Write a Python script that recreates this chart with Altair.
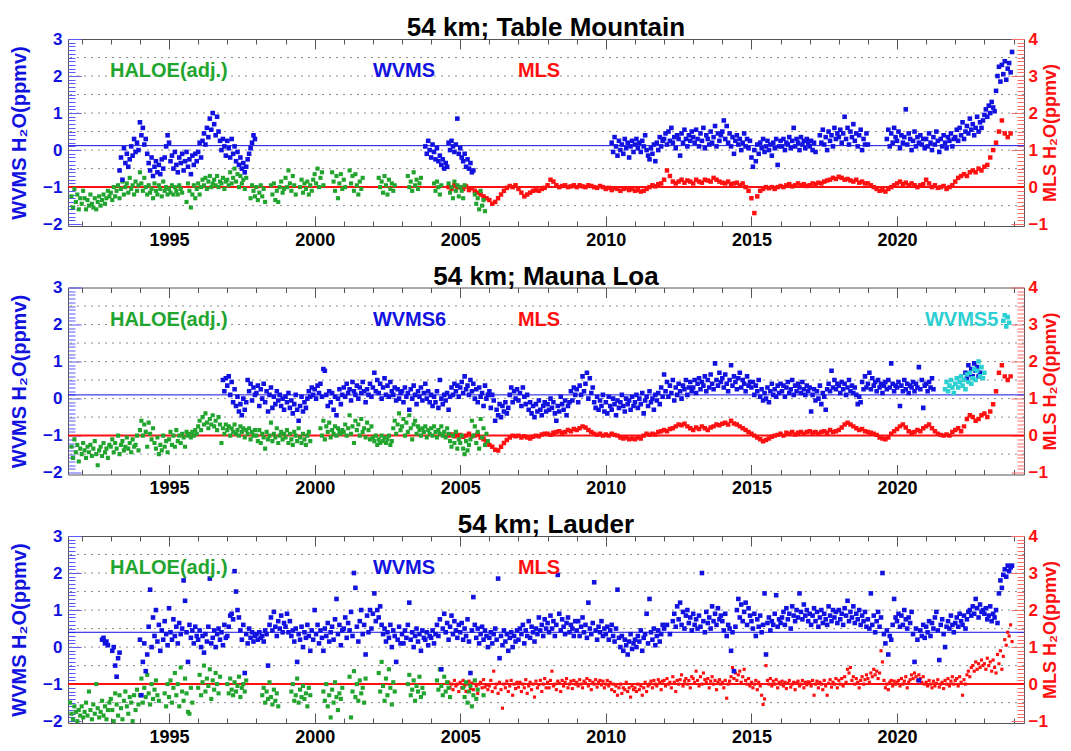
import altair as alt
import pandas as pd

N = None
FONT = "Liberation Sans"
BLUE = "#1212e0"
GREEN = "#22a52e"
RED = "#ff1010"
CYAN = "#2ccfd2"
TICK_BLUE = "#5a5aff"
TICK_RED = "#ff6a6a"
FRAME = "#555555"

# ---------------- axes / labels ----------------
X_DOMAIN = [1991.53, 2024.36]
YL_DOMAIN = [-2.05, 3.0]
YR_DOMAIN = [-1.05, 4.0]
LEFT_LABELS = [-2, -1, 0, 1, 2, 3]
RIGHT_LABELS = [-1, 0, 1, 2, 3, 4]
YEAR_LABELS = [1995, 2000, 2005, 2010, 2015, 2020]
YEAR_TICKS = list(range(1992, 2025))
LEFT_MINOR = [round(-2.0 + 0.1 * i, 1) for i in range(51)]
RIGHT_MINOR = [round(-1.0 + 0.1 * i, 1) for i in range(51)]
GRID = [-1.5, -1.0, -0.5, 0.0, 0.5, 1.0, 1.5, 2.0, 2.5]
MLS_ZERO = [0.0]
TITLES = ["54 km; Table Mountain", "54 km; Mauna Loa", "54 km; Lauder"]
BASE_WVMS = [0.12, 0.10, 0.40]
LABEL_Y = 2.13
LABELS_TM = [("HALOE(adj.)", 1992.97), ("WVMS", 2002.0), ("MLS", 2006.98)]
LABELS_ML = [("HALOE(adj.)", 1992.97), ("WVMS6", 2002.0), ("MLS", 2006.98), ("WVMS5", 2020.96)]
LABELS_LA = [("HALOE(adj.)", 1992.97), ("WVMS", 2002.0), ("MLS", 2006.98)]
LABEL_COLORS = {"HALOE(adj.)": GREEN, "WVMS": BLUE, "WVMS6": BLUE, "MLS": RED, "WVMS5": CYAN}

# ---------------- Table Mountain ----------------
TM_HALOE_START, TM_HALOE_STEP = 1991.0, 0.05
TM_HALOE = [
    N, N, N, N, N, N, N, N, N, N, N, N, N, -1.25, -1.55, -1.05, -1.4, -1.2, -1.6, -1.3,
    -1.45, -1.1, -1.3, -1.6, -1.35, -1.5, -1.2, -1.45, -1.55, -1.3, -1.6, -1.4, -1.25, -1.5, -1.35, -1.2, -1.45, -1.3, -1.1, -1.25,
    -1.15, -1.35, -1.0, -1.25, -1.1, -0.95, -1.3, -1.05, -0.85, -1.2, -1.0, -0.9, -1.15, -0.75, -1.05, -0.95, -1.2, -0.85, -1.1, -0.95,
    -0.6, -0.9, -1.1, -0.75, -1.0, -1.2, -0.95, -1.15, -1.05, -1.3, -0.9, -1.1, -1.2, -0.95, -1.05, -1.25, -0.85, -1.1, -1.0, -1.2,
    -1.05, -1.15, -0.95, -1.2, -1.0, -1.1, -1.2, -0.95, -1.05, -1.15, N, N, -1.4, -0.9, -1.1, -1.55, -1.2, -0.95, -1.3, -1.05,
    -0.9, -1.2, -1.0, -0.8, -0.95, -0.75, -1.05, -0.85, -0.7, -1.0, -0.9, -0.8, -0.95, -0.7, -1.0, -0.85, -0.9, -0.75, -1.05, -0.85,
    -0.8, -0.95, -0.6, -0.9, -0.75, -0.5, -0.85, -0.65, -1.0, -0.7, -0.9, -0.8, -1.05, -0.75, N, N, -1.3, -0.95, -1.1, -1.25,
    -1.0, -1.35, -1.15, -0.95, -1.25, -1.05, -1.4, N, N, N, -0.95, -1.2, -0.9, -1.35, -1.1, -1.4, -1.0, -0.85, -1.15, -1.05,
    -0.75, -1.0, -0.55, -0.9, -1.1, -0.7, -0.95, -1.2, N, N, -1.0, -0.8, -1.15, -0.9, -1.05, -0.85, -1.2, -0.95, -1.1, -0.8,
    -0.65, -0.9, -0.5, -1.0, -0.75, -0.6, -0.95, N, N, N, N, N, -0.6, -0.85, -1.1, -0.7, -1.3, -0.9, -0.65, -1.05,
    -0.8, -1.0, N, N, -0.55, -0.9, -0.7, -1.1, -0.65, -0.95, -1.2, -0.85, -1.05, -0.75, N, N, N, N, N, N,
    N, N, N, N, -0.75, -1.0, -0.85, -1.15, -0.7, -0.95, -1.2, -0.8, -1.05, -0.9, -1.1, -0.95, N, N, N, N,
    N, N, N, N, -0.7, -1.0, -0.85, -1.1, -0.6, -0.95, -0.8, -1.05, -0.9, -0.75, N, N, N, N, N, N,
    N, N, -0.9, -1.1, -0.85, -1.0, -1.2, -0.95, N, N, N, N, -0.9, -1.15, -1.0, -1.3, -0.85, -1.1, -0.95, -1.25,
    -1.0, -1.1, -1.3, -0.95, N, N, N, N, N, N, -1.2, -1.45, -1.3, -1.6, -1.1, -1.5, -1.35, -1.65,
]
TM_WVMS_A_START = 1993.0
TM_WVMS_A = [
    N, N, N, N, N, N, -0.55, -0.2, -0.8, 0.05, -0.35, -0.1, -0.45, -0.25, 0.1, -0.15, 0.3, -0.05, 0.2, 0.0,
    0.75, 0.4, 0.6, 0.15, 0.3, -0.1, -0.35, -0.55, -0.2, -0.7, -0.45, -0.3, -0.6, -0.4, -0.65, -0.25, -0.5, -0.2, 0.1, 0.4,
    0.2, -0.3, -0.15, -0.5, -0.05, -0.4, -0.6, -0.2, -0.35, -0.1, -0.55, -0.3, -0.05, -0.45, -0.25, -0.65, -0.15, -0.4, -0.1, -0.3,
    -0.05, 0.2, -0.2, 0.25, 0.45, 0.15, 0.6, 0.35, 0.85, 0.55, 1.0, 0.7, 0.4, 0.9, 0.5, 0.25, 0.0, 0.3, 0.1, -0.15,
    0.25, 0.05, -0.2, 0.3, -0.1, 0.1, -0.3, -0.05, -0.4, -0.2, -0.5, -0.35, -0.6, -0.45, -0.25, -0.1, 0.05, 0.2, 0.4, 0.3,
]
TM_WVMS_B_START = 2003.8
TM_WVMS_B = [
    0.1, -0.1, 0.25, 0.0, -0.2, 0.15, -0.05, -0.25, 0.05, -0.3, -0.15, -0.4, -0.25, -0.5, -0.35, -0.45, 0.2,
    0.0, 0.25, 0.1, -0.05, 0.15, 0.85, -0.1, 0.05, -0.2, -0.3, -0.1, -0.45, -0.25, -0.5, -0.35, -0.6, -0.55,
]
TM_WVMS_C_START = 2010.2
TM_WVMS_C = [
    0.2, -0.05, 0.35, 0.1, -0.15, 0.25, 0.0, 0.15, -0.1, 0.3, 0.05, 0.2, -0.2, 0.1, 0.25, -0.05,
    0.15, 0.3, 0.05, 0.2, -0.05, 0.25, 0.1, 0.4, 0.0, -0.15, -0.25, 0.05, -0.1, 0.15, -0.3, 0.2, 0.0, 0.35, 0.1, 0.25,
    0.3, 0.45, 0.15, 0.5, 0.25, 0.6, 0.2, 0.35, 0.05, 0.4, 0.3, -0.15, 0.45, 0.2, 0.55, 0.3, 0.1, 0.4, 0.25, 0.5,
    0.35, 0.2, 0.55, 0.3, 0.1, 0.45, 0.25, 0.6, 0.05, 0.4, 0.3, 0.15, 0.5, 0.2, 0.35, 0.65, 0.1, 0.45, 0.25, 0.4,
    0.5, 0.8, 0.3, 0.65, 0.2, 0.45, 0.1, 0.35, -0.1, 0.25, 0.4, 0.15, 0.3, 0.0, 0.2, 0.45, 0.1, 0.3, 0.05, 0.25,
    -0.2, -0.45, 0.0, -0.3, 0.15, -0.1, 0.2, 0.05, 0.3, -0.05, 0.1, 0.25, 0.0, 0.15, -0.15, 0.2, 0.05, 0.3, -0.4, 0.1,
    0.25, 0.1, 0.3, 0.0, 0.2, 0.15, 0.35, 0.05, 0.25, 0.6, 0.1, 0.3, 0.2, 0.0, 0.35, 0.15, 0.25, 0.05, 0.3, 0.2,
    0.1, 0.25, 0.0, 0.2, -0.05, N, N, 0.4, 0.2, 0.55, 0.15, 0.35, 0.0, 0.5, 0.25, 0.4, 0.1, 0.6, 0.3, 0.45,
    0.35, 0.55, 0.2, 0.45, 0.9, 0.3, 0.6, 0.15, 0.5, 0.35, 0.7, 0.25, 0.45, 0.1, 0.4, 0.55, 0.0, 0.3, 0.15, 0.45,
    0.15, N, N, N, N, N, N, N, N, N, N, N, N, 0.3, 0.55, 0.1, 0.45, 0.2, 0.6, 0.35,
    0.25, 0.5, 0.05, 0.4, 0.2, 0.35, 1.1, 0.15, 0.45, 0.3, 0.0, 0.25, 0.5, 0.1, 0.35, 0.2, 0.4, 0.15, 0.3, 0.05,
    0.3, 0.1, 0.45, 0.2, 0.0, 0.35, 0.15, 0.5, 0.25, -0.05, 0.3, 0.1, 0.4, 0.2, 0.05, 0.35, 0.25, 0.45, 0.1, 0.3,
    0.35, 0.55, 0.25, 0.6, 0.4, 0.75, 0.3, 0.5, 0.65, 0.45, 0.85, 0.55, 0.7, 0.4, 0.6, 0.9, 0.5, 0.75, 0.6, 0.8,
    0.95, 1.1, 0.9, 1.2, 1.0, 1.3, 1.15, 1.05, 1.6, 2.0, 2.25, 1.85, 2.3, 2.05, 2.4, 1.9, 2.2, 2.35, 2.1, 2.65,
]
TM_MLS_START, TM_MLS_STEP = 2004.6, 0.1
TM_MLS = [
    0.0, -0.05, 0.05, 0.0,
    0.0, -0.05, 0.02, -0.08, -0.03, -0.1, -0.15, -0.2, -0.25, -0.3,
    -0.35, -0.45, -0.4, -0.3, -0.2, -0.1, -0.02, 0.03, 0.0, 0.05,
    -0.05, -0.15, -0.25, -0.2, -0.15, -0.1, -0.08, -0.1, -0.05, -0.02,
    0.05, 0.2, 0.15, 0.05, 0.0, 0.03, 0.05, 0.0, 0.02, 0.05,
    0.0, 0.05, 0.02, 0.0, 0.05, 0.03, 0.0, -0.02, 0.03, 0.0,
    -0.05, -0.02, -0.08, -0.03, -0.05, -0.1, -0.05, -0.03, -0.08, -0.05,
    -0.1, -0.08, -0.12, -0.1, -0.05, 0.0, 0.05, 0.02, 0.08, 0.1,
    0.2, 0.45, 0.3, 0.15, 0.1, 0.15, 0.2, 0.12, 0.18, 0.15,
    0.1, 0.2, 0.15, 0.12, 0.2, 0.18, 0.15, 0.25, 0.2, 0.15,
    0.12, 0.1, 0.15, 0.08, 0.1, 0.12, 0.05, 0.1, 0.0, -0.1,
    -0.3, -0.7, -0.25, -0.1, -0.05, 0.0, -0.03, 0.0, -0.05, 0.0,
    0.03, 0.0, 0.05, 0.08, 0.02, 0.05, 0.1, 0.05, 0.08, 0.03,
    0.05, 0.1, 0.08, 0.12, 0.1, 0.15, 0.18, 0.2, 0.25, 0.22,
    0.28, 0.25, 0.2, 0.22, 0.18, 0.15, 0.2, 0.12, 0.15, 0.1,
    0.1, 0.05, 0.0, -0.05, -0.1, -0.08, -0.12, -0.05, 0.0, 0.05,
    0.1, 0.15, 0.08, 0.12, 0.05, 0.1, 0.05, 0.0, 0.05, 0.08,
    0.2, 0.1, 0.0, 0.05, -0.02, 0.0, 0.03, -0.05, 0.0, 0.05,
    0.15, 0.25, 0.3, 0.35, 0.3, 0.4, 0.45, 0.4, 0.5, 0.45,
    0.55, 0.6, 0.8, 1.0, 1.2, 1.5, 1.8, 1.45, 1.35, 1.45,
]

# ---------------- Mauna Loa ----------------
ML_HALOE_START, ML_HALOE_STEP = 1991.0, 0.05
ML_HALOE = [
    N, N, N, N, N, N, N, N, N, N, N, N, N, -1.3, -1.6, -1.1, -1.45, -1.25, -1.7, -1.35,
    -1.5, -1.2, -1.4, -1.6, -1.3, -1.45, -1.25, -1.55, -1.35, -1.15, -1.5, -1.8, -1.4, -1.3, -1.55, -1.2, -1.45, -1.35, -1.6, -1.25,
    -1.3, -1.1, -1.45, -1.2, -1.35, -1.0, -1.5, -1.25, -1.15, -1.4, -1.3, -1.05, -1.35, -1.2, -1.45, -1.1, -1.3, -1.25, -1.0, -1.4,
    -0.85, -0.6, -1.0, -0.7, -0.9, -1.3, -0.65, -0.95, -1.1, -0.8, -1.2, -1.35, -1.05, -1.5, -1.25, -1.4, -1.0, -1.3, -1.15, -1.45,
    -1.1, -0.9, -1.25, -1.0, -1.3, -0.85, -1.15, -1.0, -1.2, -0.95, -1.05, -1.3, -0.9, -1.0, -0.95, -1.05, -0.9, -1.0, -0.85, -0.95,
    -0.75, -0.6, -0.85, -0.5, -0.7, -0.4, -0.65, -0.8, -0.55, -0.7, -0.45, -0.75, -0.6, -0.85, -0.5, -0.7, -1.2, -0.8, -0.95, -0.7,
    -0.85, -0.75, -1.0, -0.8, -0.9, -0.7, -0.95, -0.85, -1.0, -0.75, -0.9, -0.8, -1.05, -0.85, -0.95, -0.8, -1.1, -0.9, -1.0, -0.85,
    -1.0, -1.15, -0.85, -1.2, -0.95, -1.05, -1.35, -0.9, -1.1, -1.0, -0.65, -1.15, -0.95, -1.05, -0.8, -1.2, -1.0, -0.9, -1.1, -0.95,
    -1.05, -0.85, -1.2, -0.95, -1.1, -1.25, -0.9, -1.0, -1.15, -0.8, -1.05, -1.2, -0.95, -1.1, -1.25, -1.0, -0.9, -1.15, N, N,
    N, N, N, N, -0.8, -1.0, -0.6, -1.1, -0.75, -0.9, -0.65, -1.05, -0.85, -0.95, -0.75, -1.0, -0.8, -0.9, -0.95, -0.85,
    -0.9, -0.7, -1.0, -0.8, -0.45, -0.95, -0.75, -1.2, -0.6, -0.85, -0.7, -1.0, -0.55, -0.9, -0.8, -1.05, -0.65, -0.85, -1.1, -0.75,
    -1.05, -1.15, -1.0, -1.25, -1.1, -1.2, -1.0, -1.15, -1.05, -1.2, -1.1, -1.0, -1.25, -1.15, -0.8, -0.6, -0.95, -0.7, -0.4, -0.85,
    -0.75, -0.55, -1.0, -0.65, -0.9, -0.45, -0.8, -1.1, -0.7, -0.6, -0.95, -0.75, -0.85, -1.0, -0.8, -0.9, -0.75, -1.05, -0.85, -0.95,
    -0.8, -1.0, -0.75, -0.9, -1.05, -0.85, -0.95, -0.75, -1.0, -0.9, -1.05, -0.8, -0.95, -1.15, -1.3, -1.0, -1.2, -0.9, -1.35, -1.1,
    -1.2, -1.0, -1.35, -1.5, -1.15, -1.4, -1.25, -1.1, -0.6, -1.0, -0.75, -1.2, -0.9, -1.35, -0.55, -1.05, -0.8, -1.25, -0.95, -1.15,
]
ML_WVMS_A_START = 1996.85
ML_WVMS_A = [
    0.5, 0.2, 0.55,
    0.35, 0.6, 0.1, 0.45, -0.1, 0.25, -0.2, 0.05, -0.35, -0.15, -0.45, 0.0, -0.3, -0.1, 0.5, 0.2, 0.4, -0.05, 0.3, 0.1,
    0.15, 0.35, -0.2, 0.25, 0.0, 0.4, -0.1, 0.2, -0.35, 0.1, 0.3, -0.25, 0.05, -0.15, 0.2, -0.05, 0.1, -0.2, 0.0, -0.3,
    0.05, -0.1, 0.15, -0.25, -0.05, -0.4, -0.15, 0.1, -0.3, -0.6, -0.2, 0.05, -0.35, -0.1, -0.25, 0.0, 0.2, 0.05, 0.3, 0.1,
    0.25, 0.0, 0.35, 0.15, 0.4, 0.05, 0.8, 0.75, 0.1, -0.2, 0.2, -0.1, 0.15, -0.3, 0.05, -0.45, 0.0, 0.25, -0.15, 0.1,
    0.3, 0.05, 0.4, 0.15, 0.25, -0.05, 0.45, 0.2, 0.1, 0.35, 0.0, 0.3, 0.15, 0.45, 0.2, -0.1, 0.25, 0.1, 0.4, 0.05,
    0.3, 0.7, 0.2, 0.5, 0.15, 0.4, 0.0, 0.3, 0.55, 0.1, 0.35, 0.05, 0.45, 0.2, 0.1, 0.3, -0.05, 0.25, 0.0, 0.15,
    0.2, -0.1, 0.3, 0.05, 0.15, -0.3, 0.25, 0.0, 0.35, 0.1, -0.15, 0.2, 0.05, 0.3, -0.05, 0.15, 0.4, 0.0, 0.2, -0.1,
    0.1, -0.2, 0.05, -0.1, 0.2, -0.25, 0.5, 0.0, -0.15, 0.1, -0.05, 0.15, -0.3, 0.05, 0.3, 0.1, 0.4, 0.2, 0.35, 0.05,
    0.3, 0.45, 0.15, 0.6, 0.25, 0.35, 0.1, 0.5, 0.2, 0.4, 0.0, 0.25, -0.1, 0.3, 0.05, 0.15, -0.2, 0.35, 0.0, 0.1,
    0.2, -0.25, 0.1, -0.05, -0.6, -0.3, -0.45, -0.15, -0.5, -0.2, -0.35, -0.1, -0.4, -0.25, 0.1, 0.3, -0.1, 0.2, 0.0, 0.25,
    -0.05, 0.15, -0.2, 0.3, 0.05, -0.15, 0.1, -0.3, -0.1, -0.4, -0.2, -0.5, -0.15, -0.35, -0.05, -0.3, -0.45, -0.2, -0.1, -0.35,
    -0.15, -0.3, 0.0, -0.25, -0.1, -0.4, -0.6, -0.2, -0.35, 0.05, -0.15, -0.3, -0.05, -0.45, -0.2, -0.1, 0.2, -0.05, 0.3, 0.1,
    0.25, -0.1, 0.35, 0.1, 0.6, 0.2, 0.4, 0.7, 0.0, 0.55, 0.15, 0.3, -0.1, -0.25, 0.05, -0.3, -0.05, -0.2, 0.1, -0.35,
    -0.1, -0.4, 0.05, -0.2, -0.3, 0.0, -0.15, -0.45, -0.05, -0.25, -0.1, 0.1, -0.2, -0.35, 0.0, -0.15, -0.05, -0.3, 0.05, -0.2,
    -0.1, 0.1, -0.25, 0.0, -0.15, 0.15, -0.4, -0.05, 0.05, -0.2, 0.2, -0.1, 0.0, -0.3, 0.1, -0.05, 0.15, -0.15, 0.3, 0.05,
    0.65, 0.2, 0.45, 0.05, 0.35, 0.15, 0.5, -0.05, 0.3, 0.1, 0.4, 0.2, 0.0, 0.35, 0.25, 0.5, 0.1, 0.3, 0.45, 0.2,
    0.3, 0.5, 0.15, 0.4, 0.55, 0.25, 0.45, 0.35, 0.6, 0.2, 0.5, 0.3, 0.65, 0.4, 0.25, 0.95, 0.5, 0.35, 0.7, 0.45,
    0.55, 0.3, 0.65, 0.4, 0.2, 0.5, 0.9, 0.35, 0.6, 0.45, 0.25, 0.55, 0.7, 0.3, 0.5, 0.4, 0.2, 0.6, 0.35, 0.45,
    0.3, 0.45, 0.1, 0.35, 0.2, 0.5, 0.05, 0.25, -0.05, 0.15, 0.0, 0.3, -0.1, 0.2, 0.4, 0.1, 0.25, 0.05, 0.35, 0.15,
    0.4, 0.2, 0.35, 0.05, 0.3, 0.45, 0.15, 0.25, 0.5, 0.1, 0.35, 0.2, 0.4, 0.3, 0.15, 0.45, 0.25, 0.1, 0.35, 0.2,
    0.3, -0.35, 0.1, 0.25, -0.05, 0.2, 0.0, 0.35, -0.15, 0.15, 0.05, -0.3, 0.25, 0.4, 0.2, 0.75, 0.3, 0.5, 0.25, 0.4,
    0.35, 0.15, 0.45, 0.25, 0.4, 0.1, 0.3, 0.5, 0.2, 0.35, 0.15, 0.3, 0.1, -0.15, 0.05, -0.1, 0.45, 0.25, 0.6, 0.3,
    0.4, 0.7, 0.25, 0.55, 0.35, 0.45, 0.2, 0.5, 0.3, 0.4, 0.15, 0.35, 0.45, 0.25, 0.5, 0.3, 0.95, 0.4, 0.2, 0.35,
    0.3, 0.45, -0.2, 0.35, 0.2, 0.5, 0.25, 0.4, 0.15, 0.35, 0.3, 0.45, 0.2, 0.4, 0.3, 0.85, 0.25, 0.5, -0.25, 0.35,
    0.4, 0.2, 0.45, 0.3, 0.55, 0.25,
]
ML_WVMS_B_START = 2022.35
ML_WVMS_B = [0.7, 0.55, 0.9, 0.65, 0.8, 0.6, 0.95, 0.75, 0.85, 0.6, 0.7]
ML_WVMS5_A_START = 2021.65
ML_WVMS5_A = [0.25, 0.45, 0.2, 0.35, 0.5, 0.3, 0.15, 0.4, 0.55, 0.3, 0.45, 0.6, 0.35, 0.5,
              0.25, 0.65, 0.45, 0.7, 0.4, 0.55, 0.8, 0.5, 0.75, 1.0, 0.6, 0.85, 0.55, 0.7]
ML_WVMS5_B_START = 2023.65
ML_WVMS5_B = [2.1, 2.25, 1.95, 2.2, 2.05]
ML_MLS_START, ML_MLS_STEP = 2004.6, 0.1
ML_MLS = [
    0.0, 0.03, -0.02, 0.0,
    0.02, -0.03, 0.0, 0.05, -0.02, 0.0, 0.03, -0.05, -0.1, -0.15,
    -0.25, -0.3, -0.38, -0.4, -0.3, -0.2, -0.12, -0.05, 0.0, -0.02,
    0.0, -0.05, -0.02, -0.05, -0.08, -0.03, 0.0, -0.02, 0.03, 0.05,
    0.05, 0.02, 0.08, 0.1, 0.12, 0.08, 0.1, 0.15, 0.12, 0.18,
    0.15, 0.2, 0.25, 0.22, 0.15, 0.1, 0.05, 0.02, 0.05, 0.0,
    0.03, 0.0, 0.05, 0.02, 0.0, -0.05, -0.08, -0.05, -0.1, -0.08,
    -0.1, -0.05, -0.08, 0.0, 0.05, 0.02, 0.05, 0.03, 0.1, 0.12,
    0.15, 0.12, 0.18, 0.2, 0.25, 0.3, 0.28, 0.32, 0.25, 0.2,
    0.15, 0.22, 0.18, 0.25, 0.2, 0.15, 0.22, 0.25, 0.3, 0.28,
    0.32, 0.35, 0.3, 0.4, 0.33, 0.3, 0.25, 0.2, 0.15, 0.1,
    0.05, 0.0, -0.05, -0.1, -0.15, -0.12, -0.08, -0.03, 0.0, 0.02,
    0.05, 0.0, 0.08, 0.05, 0.1, 0.03, 0.08, 0.1, 0.05, 0.1,
    0.12, 0.08, 0.1, 0.05, 0.1, 0.12, 0.08, 0.15, 0.1, 0.12,
    0.15, 0.22, 0.3, 0.35, 0.3, 0.25, 0.2, 0.15, 0.18, 0.12,
    0.1, 0.08, 0.05, 0.02, -0.05, -0.08, -0.1, -0.05, 0.05, 0.12,
    0.18, 0.25, 0.3, 0.22, 0.12, 0.08, 0.1, 0.15, 0.12, 0.2,
    0.25, 0.3, 0.2, 0.12, 0.05, 0.02, 0.0, 0.03, 0.0, 0.1,
    0.15, 0.2, 0.12, 0.25, 0.45, 0.55, 0.5, 0.4, 0.45, 0.55,
    0.6, 0.5, 0.65, 0.85, 1.2, 1.7, 1.9, 1.6, 1.5, 1.6,
]

# ---------------- Lauder ----------------
LA_HALOE_START, LA_HALOE_STEP = 1991.0, 0.05
LA_HALOE = [
    N, N, N, N, N, N, N, N, N, N, N, N, -1.5, -1.8, -1.95, -1.6, -1.75, -2.0, -1.7, -1.85,
    -1.6, -1.9, -1.75, -1.5, -1.85, -1.2, -1.7, -1.95, -1.55, -1.8, -1.0, -1.65, -1.9, -1.75, -1.45, -1.85, -1.6, -1.95, -1.7, -1.5,
    -1.4, -1.7, -2.0, -1.25, -1.55, -1.85, -1.3, -1.65, -1.95, -1.45, -1.2, -1.6, -1.8, -1.35, -1.5, -2.0, -1.3, -1.7, -1.15, -1.55,
    -1.3, -0.85, -1.5, -1.1, -1.35, -0.75, -1.25, -1.55, -1.0, -1.4, -1.15, -0.9, -1.3, -1.45, N, N, N, -1.25, -1.6, -1.0,
    -1.35, -0.9, -1.5, -1.1, -0.7, -1.3, -1.0, -1.6, -0.55, -1.2, -1.45, -0.85, -1.25, -1.75, -1.8, -1.1, -1.5, N, N, N,
    -1.1, -0.75, -1.3, -0.95, -0.5, -1.2, -0.85, -1.05, -0.6, -1.4, -0.9, -1.15, -0.7, -1.0, -1.25, -0.8, N, N, N, N,
    -1.0, -1.25, -0.85, -1.15, -1.3, -0.95, -1.2, -1.05, -0.8, -1.35, -1.1, -1.0, -1.2, -0.9, N, N, N, N, N, N,
    N, N, N, N, -1.3, -1.1, -1.5, -1.2, -1.4, -0.95, -1.35, -1.55, -1.15, -1.45, -1.25, -1.6, N, N, N, N,
    N, N, N, N, -1.2, -1.0, -1.45, -1.3, -0.85, -1.5, -1.15, -1.35, -1.05, -1.4, -1.25, -1.6, -1.1, -1.3, N, N,
    N, N, N, N, N, N, -1.2, -1.45, -1.0, -1.6, -1.3, -1.9, -1.15, -1.5, -0.95, -1.35, -1.7, -1.25, -1.4, -1.1,
    N, N, N, N, -0.8, -1.9, -1.2, -0.65, -1.35, -1.0, -1.45, -0.9, -1.25, -1.1, -1.5, -0.85, N, N, N, N,
    N, N, N, N, -0.7, -1.2, -0.4, -1.05, -1.45, -0.85, -1.3, -0.6, -1.1, -1.55, -0.95, -1.2, N, N, N, N,
    N, N, N, N, -1.0, -0.75, -1.3, -1.15, -0.9, -1.45, -1.05, -1.2, -0.8, -1.35, -1.1, -1.25, N, N, N, N,
    N, N, N, N, -0.9, -1.15, -0.6, -1.05, -1.3, -0.8, -1.2, -0.95, -1.1, -1.35, N, N, N, N, N, N,
    N, N, -1.1, -1.35, -0.95, -1.5, -1.2, -1.05, -1.6, -1.3, -0.9, -1.4, -1.15, N, N, N, -1.3,
]
LA_WVMS_START = 1992.7
LA_WVMS = [
    0.2, 0.25, 0.1, 0.15, 0.05, N,
    N, -0.1, 0.0, -0.5, -0.8, -0.3, -0.15, N, N, N, N, N, N, N, N, N, N, N, N, N,
    0.2, -1.3, -0.4, 0.1, -0.65, -0.2, 0.55, 1.55, 0.0, 0.8, 0.3, 1.0, 0.15, 0.6, -0.1, 0.45, 0.2, 0.7, 0.35, 0.05,
    1.05, 0.4, 0.2, 0.75, 0.3, 0.55, 0.1, 0.65, 0.35, 0.5, 1.8, 1.25, 0.4, -0.4, 0.6, 0.25, 0.45, 0.1, 0.55, 0.3,
    0.2, 0.45, 0.0, 0.3, -0.15, 0.35, 0.15, 0.55, 1.85, 0.1, 0.25, 0.45, 0.0, 0.35, 0.5, 0.2, 0.4, 0.05, 0.6, 0.25,
    0.3, 0.55, 0.85, 0.9, 0.75, 2.05, 1.5, 1.0, 0.8, 0.45, 0.2, 0.6, -0.7, 0.35, 0.1, 0.5, 0.25, 0.4, 0.15, 0.3,
    0.35, 0.2, 0.4, 0.25, 0.3, 0.15, 0.45, 0.35, -0.5, 0.6, 0.8, 0.45, 0.95, 0.55, 0.3, 0.7, 0.5, 0.85, 0.4, 0.65,
    0.55, 0.9, 0.4, 0.7, 0.3, 0.45, 0.15, 0.5, -0.4, 0.35, 0.2, 0.55, 0.0, 0.4, 0.25, 0.6, 0.3, -0.1, 0.45, 0.2,
    1.0, 0.35, 0.6, 0.1, 0.45, 0.25, -0.1, 0.5, 0.3, 0.65, 0.15, 0.4, 0.55, 0.2, 0.75, 1.3, 0.35, 0.6, 0.05, 0.45,
    0.5, 0.8, 0.25, 0.65, 0.45, 0.95, 0.3, 2.0, 1.6, 0.55, 0.15, 0.7, 1.0, 0.35, 0.6, -0.2, 0.85, 0.4, 1.0, 0.5,
    0.9, 1.45, 0.7, 1.0, 0.8, 1.1, 0.6, 0.35, 0.5, 0.15, 0.4, 0.25, 0.6, 0.0, 0.45, 0.3, -0.4, 0.2, 0.55, 0.1,
    0.35, 0.1, 0.45, 0.25, 0.6, 1.2, 0.2, 0.4, 0.0, 0.3, 0.5, 0.15, 0.35, -0.1, 0.45, 0.25, 0.2, 0.4, 0.05, 0.3,
    0.25, 0.45, 0.1, 0.35, 0.6, 0.3, 0.75, -0.6, 0.5, 0.9, 0.4, 0.65, 0.2, 0.55, 0.85, 0.35, 0.7, 0.45, 0.25, 0.6,
    0.4, 0.65, 0.2, 0.5, 0.3, 0.75, 0.15, -0.7, 0.45, 1.35, 0.6, 0.25, 0.5, 0.1, 0.35, 0.55, 0.2, 0.45, 0.3, 0.0,
    0.25, 0.4, 0.1, 0.35, 0.5, 0.2, 1.85, -0.3, 0.3, 0.05, 0.45, 0.15, 0.35, -0.1, 0.25, 0.4, 0.0, 0.3, 0.15, 0.45,
    0.2, 0.5, 0.35, 0.6, 0.1, 0.45, 0.3, 0.7, 0.25, 0.55, 0.4, 0.15, 0.5, 0.35, 0.8, 0.45, 0.6, 0.3, 0.75, 0.5,
    0.65, 0.4, 0.85, 0.5, 0.7, 0.3, 0.6, 1.95, 0.9, 0.45, 0.75, 0.55, 0.35, 0.65, 0.8, 0.4, 0.6, 0.5, 0.3, 0.7,
    0.45, 0.7, 0.3, 0.55, 0.8, 0.4, 0.6, 0.25, 1.2, 0.5, 0.35, 0.65, 1.75, 0.45, 0.2, 0.55, 0.4, 0.7, 0.3, 0.5,
    0.35, 0.55, 0.2, 0.45, 0.6, 0.3, 0.15, 0.5, 1.55, 0.25, 0.0, 0.3, -0.1, 0.2, 0.05, -0.2, 0.15, 0.35, -0.05, 0.1,
    0.2, 0.0, 0.3, 0.15, 0.45, -0.1, 0.25, 0.35, 0.9, 0.1, 1.3, 0.4, 0.2, 0.5, 0.05, 0.3, 0.45, 0.15, 0.35, 0.6,
    0.5, N, 0.6, N, 0.35, N, 0.7, 0.9, 0.55, 1.1, 0.75, 1.2, 0.6, 0.95, 0.5, 0.85, 1.0, 0.65, 0.8, 0.45,
    0.9, 0.6, 0.75, 0.5, 0.85, 0.55, 2.0, 0.7, 0.4, 0.95, 0.65, 0.8, 0.5, 1.1, 0.7, 0.9, 0.6, 1.05, 0.75, 0.85,
    0.7, 0.45, 0.9, 0.3, 0.6, 0.5, -0.1, 0.4, -0.65, 0.55, 1.0, 1.3, 0.8, 1.15, 0.7, 0.95, 1.2, 0.6, 1.05, 0.85,
    0.7, 0.5, 0.9, 0.3, 0.75, 0.55, 0.85, 0.4, 0.6, 1.45, -0.2, 0.65, 0.8, 0.45, 0.7, 0.6, 0.9, 1.4, 0.55, 0.75,
    0.65, 0.8, 0.95, 0.6, 1.05, 0.75, 0.9, 0.5, 1.1, 0.85, 0.7, 1.0, 0.8, 1.45, 0.95, 0.75, 1.15, 0.85, 1.0, 0.7,
    0.9, 0.6, 0.85, 1.05, 0.7, 0.95, 0.55, 0.8, 1.0, 0.65, 0.9, 0.75, 0.6, 1.1, 0.85, 0.7, 1.0, 0.8, 0.95, 0.65,
    1.0, 0.75, 0.9, 0.6, 1.05, 0.85, 1.25, 0.7, 0.95, 0.8, 1.1, 0.65, 0.9, 0.75, 1.0, 0.6, 0.85, 0.7, 0.95, 0.55,
    0.75, 0.5, 1.45, 0.6, 0.85, 0.4, 0.7, 0.95, 0.55, 0.8, 2.0, 0.35, 0.1, 0.45, -0.2, 0.3, 0.2, 0.6, 1.3, 0.8,
    0.7, 0.9, 0.55, 0.85, 0.6, 1.0, 0.75, 0.5, 0.8, 0.65, 0.95, 0.35, -0.4, 0.5, 0.2, -0.9, 0.45, 0.3, 0.6, 0.25,
    0.55, 0.4, 0.7, 0.3, 0.65, 0.5, 0.8, 0.95, 0.45, -0.35, 0.6, 0.75, 0.35, 0.0, 0.55, 0.7, 0.5, 0.85, 0.6, 0.4,
    0.65, 0.8, 0.55, 0.9, 0.7, 0.6, 0.85, 0.5, 0.75, 0.95, 1.0, 0.85, 1.1, 0.9, 1.3, 1.05, 0.8, 1.15, 0.95, 1.0,
    0.9, 1.05, 0.75, 0.85, 1.1, 0.7, 0.9, 0.8, 1.0, 0.65, 1.45, 1.8, 1.6, 1.95, 2.1, 1.9, 2.2, 2.05, 2.15, 2.2,
]
LA_MLS_START, LA_MLS_STEP = 2004.6, 0.05
LA_MLS = [
    0.05, -0.1, 0.0, -0.15, 0.1, -0.05, 0.0, -0.2,
    0.05, -0.1, 0.1, -0.05, -0.2, 0.0, 0.08, -0.12, 0.03, -0.15, 0.1, -0.05, -0.25, 0.0, 0.05, -0.1, 0.12, -0.08, -0.02, -0.15,
    -0.05, 0.1, -0.2, 0.35, -0.1, 0.0, -0.25, 0.05, -0.15, -0.65, 0.0, -0.1, 0.08, -0.2, -0.05, 0.1, -0.3, 0.0, -0.12, 0.05,
    -0.08, 0.05, -0.2, 0.0, -0.1, 0.12, -0.25, -0.05, 0.05, -0.15, 0.0, -0.35, 0.08, -0.1, -0.02, 0.1, -0.2, 0.0, 0.15, -0.1,
    0.05, -0.1, 0.1, 0.35, -0.05, 0.0, -0.15, 0.08, 0.02, -0.2, 0.1, -0.05, 0.05, 0.15, -0.1, 0.0, 0.08, -0.12, 0.1, 0.0,
    0.05, -0.05, 0.12, 0.0, -0.1, 0.08, 0.03, 0.15, -0.05, 0.1, -0.15, 0.05, 0.0, 0.12, -0.08, 0.05, 0.1, -0.02, 0.08, -0.1,
    0.0, 0.1, -0.05, 0.05, -0.15, 0.0, -0.2, -0.05, -0.3, -0.1, 0.0, -0.25, -0.1, -0.15, 0.05, -0.2, -0.1, -0.35, -0.05, -0.15,
    -0.1, -0.2, 0.0, -0.15, -0.05, -0.3, -0.1, 0.05, -0.2, -0.05, 0.0, 0.08, -0.1, 0.1, 0.0, -0.05, 0.12, 0.05, -0.15, 0.08,
    0.1, -0.05, 0.15, 0.0, 0.05, -0.1, 0.2, 0.05, -0.2, 0.1, 0.0, 0.12, 0.25, -0.05, 0.08, 0.15, 0.0, 0.1, -0.1, 0.2,
    0.15, 0.05, 0.35, 0.1, -0.05, 0.2, 0.0, 0.3, 0.12, 0.05, 0.15, -0.1, 0.08, 0.2, 0.0, 0.1, -0.15, 0.05, 0.12, 0.0,
    0.05, -0.1, 0.1, -0.38, 0.0, 0.08, 0.2, 0.45, 0.15, 0.3, 0.1, 0.25, 0.35, 0.05, 0.2, 0.4, 0.1, 0.0, 0.15, -0.05,
    0.05, -0.1, 0.0, 0.1, -0.15, 0.05, -0.05, -0.3, -0.55, -0.4, 0.5, 0.1, 0.0, 0.15, -0.05, 0.08, 0.0, 0.12, -0.1, 0.05,
    0.0, 0.08, -0.05, 0.05, -0.12, 0.02, 0.1, -0.08, 0.0, 0.05, -0.15, 0.03, 0.08, -0.05, 0.0, 0.1, -0.1, 0.05, -0.02, 0.06,
    0.05, -0.05, 0.1, -0.3, 0.0, 0.08, -0.1, 0.05, 0.0, -0.15, 0.1, -0.05, -0.3, 0.02, 0.12, -0.08, 0.05, 0.0, 0.15, -0.1,
    0.1, 0.0, 0.15, -0.05, 0.2, 0.05, 0.4, 0.3, 0.45, 0.1, 0.2, 0.0, 0.15, 0.05, -0.1, 0.1, 0.2, 0.0, 0.12, 0.25,
    0.15, 0.05, 0.3, 0.2, 0.4, 0.25, 0.35, 0.15, 0.3, 0.9, 0.6, 0.1, -0.1, 0.0, -0.15, 0.05, 0.1, -0.05, 0.08, 0.0,
    0.05, 0.1, -0.05, 0.15, 0.0, 0.08, 0.2, -0.1, 0.05, 0.12, 0.25, 0.15, 0.3, 0.2, 0.1, 0.25, 0.15, 0.05, 0.2, 0.0,
    0.05, -0.05, 0.1, 0.0, -0.1, 0.08, -0.05, 0.02, 0.12, -0.08, 0.0, 0.05, -0.12, 0.1, 0.0, 0.15, -0.05, 0.08, 0.2, 0.0,
    0.1, 0.15, -0.05, 0.2, 0.05, -0.3, 0.12, 0.0, 0.25, 0.35, 0.2, 0.45, 0.5, 0.35, 0.6, 0.4, 0.55, 0.45, 0.65, 0.5,
    0.55, 0.4, 0.7, 0.5, 0.6, 0.35, 0.65, 0.45, 0.3, 0.8, 0.55, 0.9, 0.4, 0.75, 1.2, 1.05, 1.4, 1.3, 1.6, 1.15,
]

W, H = 956, 187


def pts(start, step, vals):
    rows = [{"year": round(start + i * step, 3), "v": v} for i, v in enumerate(vals) if v is not None]
    return pd.DataFrame(rows)


def labels_df(items):
    return pd.DataFrame([{"t": t, "x": x, "y": LABEL_Y} for t, x in items])


xs = alt.Scale(domain=X_DOMAIN, zero=False, nice=False)
ysl = alt.Scale(domain=YL_DOMAIN, zero=False, nice=False)
ysr = alt.Scale(domain=YR_DOMAIN, zero=False, nice=False)

y_major_test = "abs(datum.value - round(datum.value)) < 0.01"
x_major_test = "datum.value % 5 === 0"

left_label_axis = alt.Axis(
    orient="left", values=LEFT_LABELS, ticks=False, domain=False, grid=False,
    labelFont=FONT, labelFontSize=17, labelFontWeight="bold", labelColor=BLUE, labelPadding=6,
    title="WVMS H₂O(ppmv)", titleFont=FONT, titleFontSize=20, titleFontWeight="bold",
    titleColor=BLUE, titlePadding=13,
)
left_tick_axis = alt.Axis(
    orient="right", offset=-W, values=LEFT_MINOR, labels=False, domain=False, grid=False,
    tickColor=TICK_BLUE, tickWidth=1,
    tickSize={"condition": {"test": y_major_test, "value": 13}, "value": 7}, title=None,
)
right_label_axis = alt.Axis(
    orient="right", values=RIGHT_LABELS, ticks=False, domain=False, grid=False,
    labelFont=FONT, labelFontSize=17, labelFontWeight="bold", labelColor=RED, labelPadding=4,
    title="MLS H₂O(ppmv)", titleFont=FONT, titleFontSize=18, titleFontWeight="bold",
    titleColor=RED, titlePadding=-6, titleAngle=270, titleBaseline="top",
)
right_tick_axis = alt.Axis(
    orient="left", offset=-W, values=RIGHT_MINOR, labels=False, domain=False, grid=False,
    tickColor=TICK_RED, tickWidth=1,
    tickSize={"condition": {"test": y_major_test, "value": 13}, "value": 7}, title=None,
)
bottom_label_axis = alt.Axis(
    orient="bottom", values=YEAR_LABELS, format="d", ticks=False, domain=False, grid=False,
    labelFont=FONT, labelFontSize=18, labelFontWeight="bold", labelColor="black", labelPadding=5,
    title=None,
)
bottom_tick_axis = alt.Axis(
    orient="top", offset=-H, values=YEAR_TICKS, labels=False, domain=False, grid=False,
    tickColor=FRAME, tickSize={"condition": {"test": x_major_test, "value": 10}, "value": 5}, title=None,
)
top_tick_axis = alt.Axis(
    orient="bottom", offset=-H, values=YEAR_TICKS, labels=False, domain=False, grid=False,
    tickColor=FRAME, tickSize={"condition": {"test": x_major_test, "value": 10}, "value": 5}, title=None,
)


def panel(title, base, haloe, wvms_list, mls, labels, mls_size, cyan_list=None):
    grid = alt.Chart(pd.DataFrame({"v": GRID})).mark_rule(
        color="#8c8c8c", strokeDash=[2, 5], strokeWidth=1
    ).encode(y=alt.Y("v:Q", scale=ysl, axis=left_label_axis))
    base_rule = alt.Chart(pd.DataFrame({"v": [base]})).mark_rule(
        color=BLUE, strokeWidth=1
    ).encode(y=alt.Y("v:Q", scale=ysl, axis=None))
    zero_rule = alt.Chart(pd.DataFrame({"v": MLS_ZERO})).mark_rule(
        color=RED, strokeWidth=2
    ).encode(y=alt.Y("v:Q", scale=ysr, axis=right_tick_axis))
    h = alt.Chart(haloe).mark_square(size=17, color=GREEN, opacity=1, clip=True).encode(
        x=alt.X("year:Q", scale=xs, axis=bottom_label_axis),
        y=alt.Y("v:Q", scale=ysl, axis=left_tick_axis),
    )
    m = alt.Chart(mls).mark_square(size=mls_size, color=RED, opacity=1, clip=True).encode(
        x=alt.X("year:Q", scale=xs, axis=top_tick_axis),
        y=alt.Y("v:Q", scale=ysr, axis=right_label_axis),
    )
    w = alt.Chart(pd.concat(wvms_list, ignore_index=True)).mark_square(
        size=21, color=BLUE, opacity=1, clip=True
    ).encode(
        x=alt.X("year:Q", scale=xs, axis=bottom_tick_axis),
        y=alt.Y("v:Q", scale=ysl, axis=None),
    )
    layers = [grid, base_rule, zero_rule, m, h, w]
    if cyan_list is not None:
        c = alt.Chart(pd.concat(cyan_list, ignore_index=True)).mark_square(
            size=21, color=CYAN, opacity=1, clip=True
        ).encode(
            x=alt.X("year:Q", scale=xs, axis=None),
            y=alt.Y("v:Q", scale=ysl, axis=None),
        )
        layers.append(c)
    txt = alt.Chart(labels_df(labels)).mark_text(
        align="left", baseline="middle", font=FONT, fontSize=20, fontWeight="bold"
    ).encode(
        x=alt.X("x:Q", scale=xs, axis=None),
        y=alt.Y("y:Q", scale=ysl, axis=None),
        text="t:N",
        color=alt.Color("t:N", scale=alt.Scale(domain=list(LABEL_COLORS.keys()),
                                               range=list(LABEL_COLORS.values())), legend=None),
    )
    layers.append(txt)
    return alt.layer(*layers).resolve_scale(x="independent", y="independent", color="independent").properties(
        width=W, height=H,
        title=alt.TitleParams(title, font=FONT, fontSize=26, fontWeight="bold", color="black",
                              anchor="middle", frame="group", offset=-11),
    )


p_tm = panel(
    TITLES[0], BASE_WVMS[0],
    pts(TM_HALOE_START, TM_HALOE_STEP, TM_HALOE),
    [pts(TM_WVMS_A_START, 0.05, TM_WVMS_A), pts(TM_WVMS_B_START, 0.05, TM_WVMS_B),
     pts(TM_WVMS_C_START, 0.05, TM_WVMS_C)],
    pts(TM_MLS_START, TM_MLS_STEP, TM_MLS), LABELS_TM, 20,
)
p_ml = panel(
    TITLES[1], BASE_WVMS[1],
    pts(ML_HALOE_START, ML_HALOE_STEP, ML_HALOE),
    [pts(ML_WVMS_A_START, 0.05, ML_WVMS_A), pts(ML_WVMS_B_START, 0.05, ML_WVMS_B)],
    pts(ML_MLS_START, ML_MLS_STEP, ML_MLS), LABELS_ML, 20,
    cyan_list=[pts(ML_WVMS5_A_START, 0.05, ML_WVMS5_A), pts(ML_WVMS5_B_START, 0.05, ML_WVMS5_B)],
)
p_la = panel(
    TITLES[2], BASE_WVMS[2],
    pts(LA_HALOE_START, LA_HALOE_STEP, LA_HALOE),
    [pts(LA_WVMS_START, 0.05, LA_WVMS)],
    pts(LA_MLS_START, LA_MLS_STEP, LA_MLS), LABELS_LA, 10,
)

chart = alt.vconcat(p_tm, p_ml, p_la, spacing=12.5).properties(
    padding={"left": 1, "top": 6, "right": 0, "bottom": 0},
    background="white",
).configure_view(stroke=FRAME, strokeWidth=1)

chart.save("out.html", embed_options={"renderer": "svg", "actions": False})
